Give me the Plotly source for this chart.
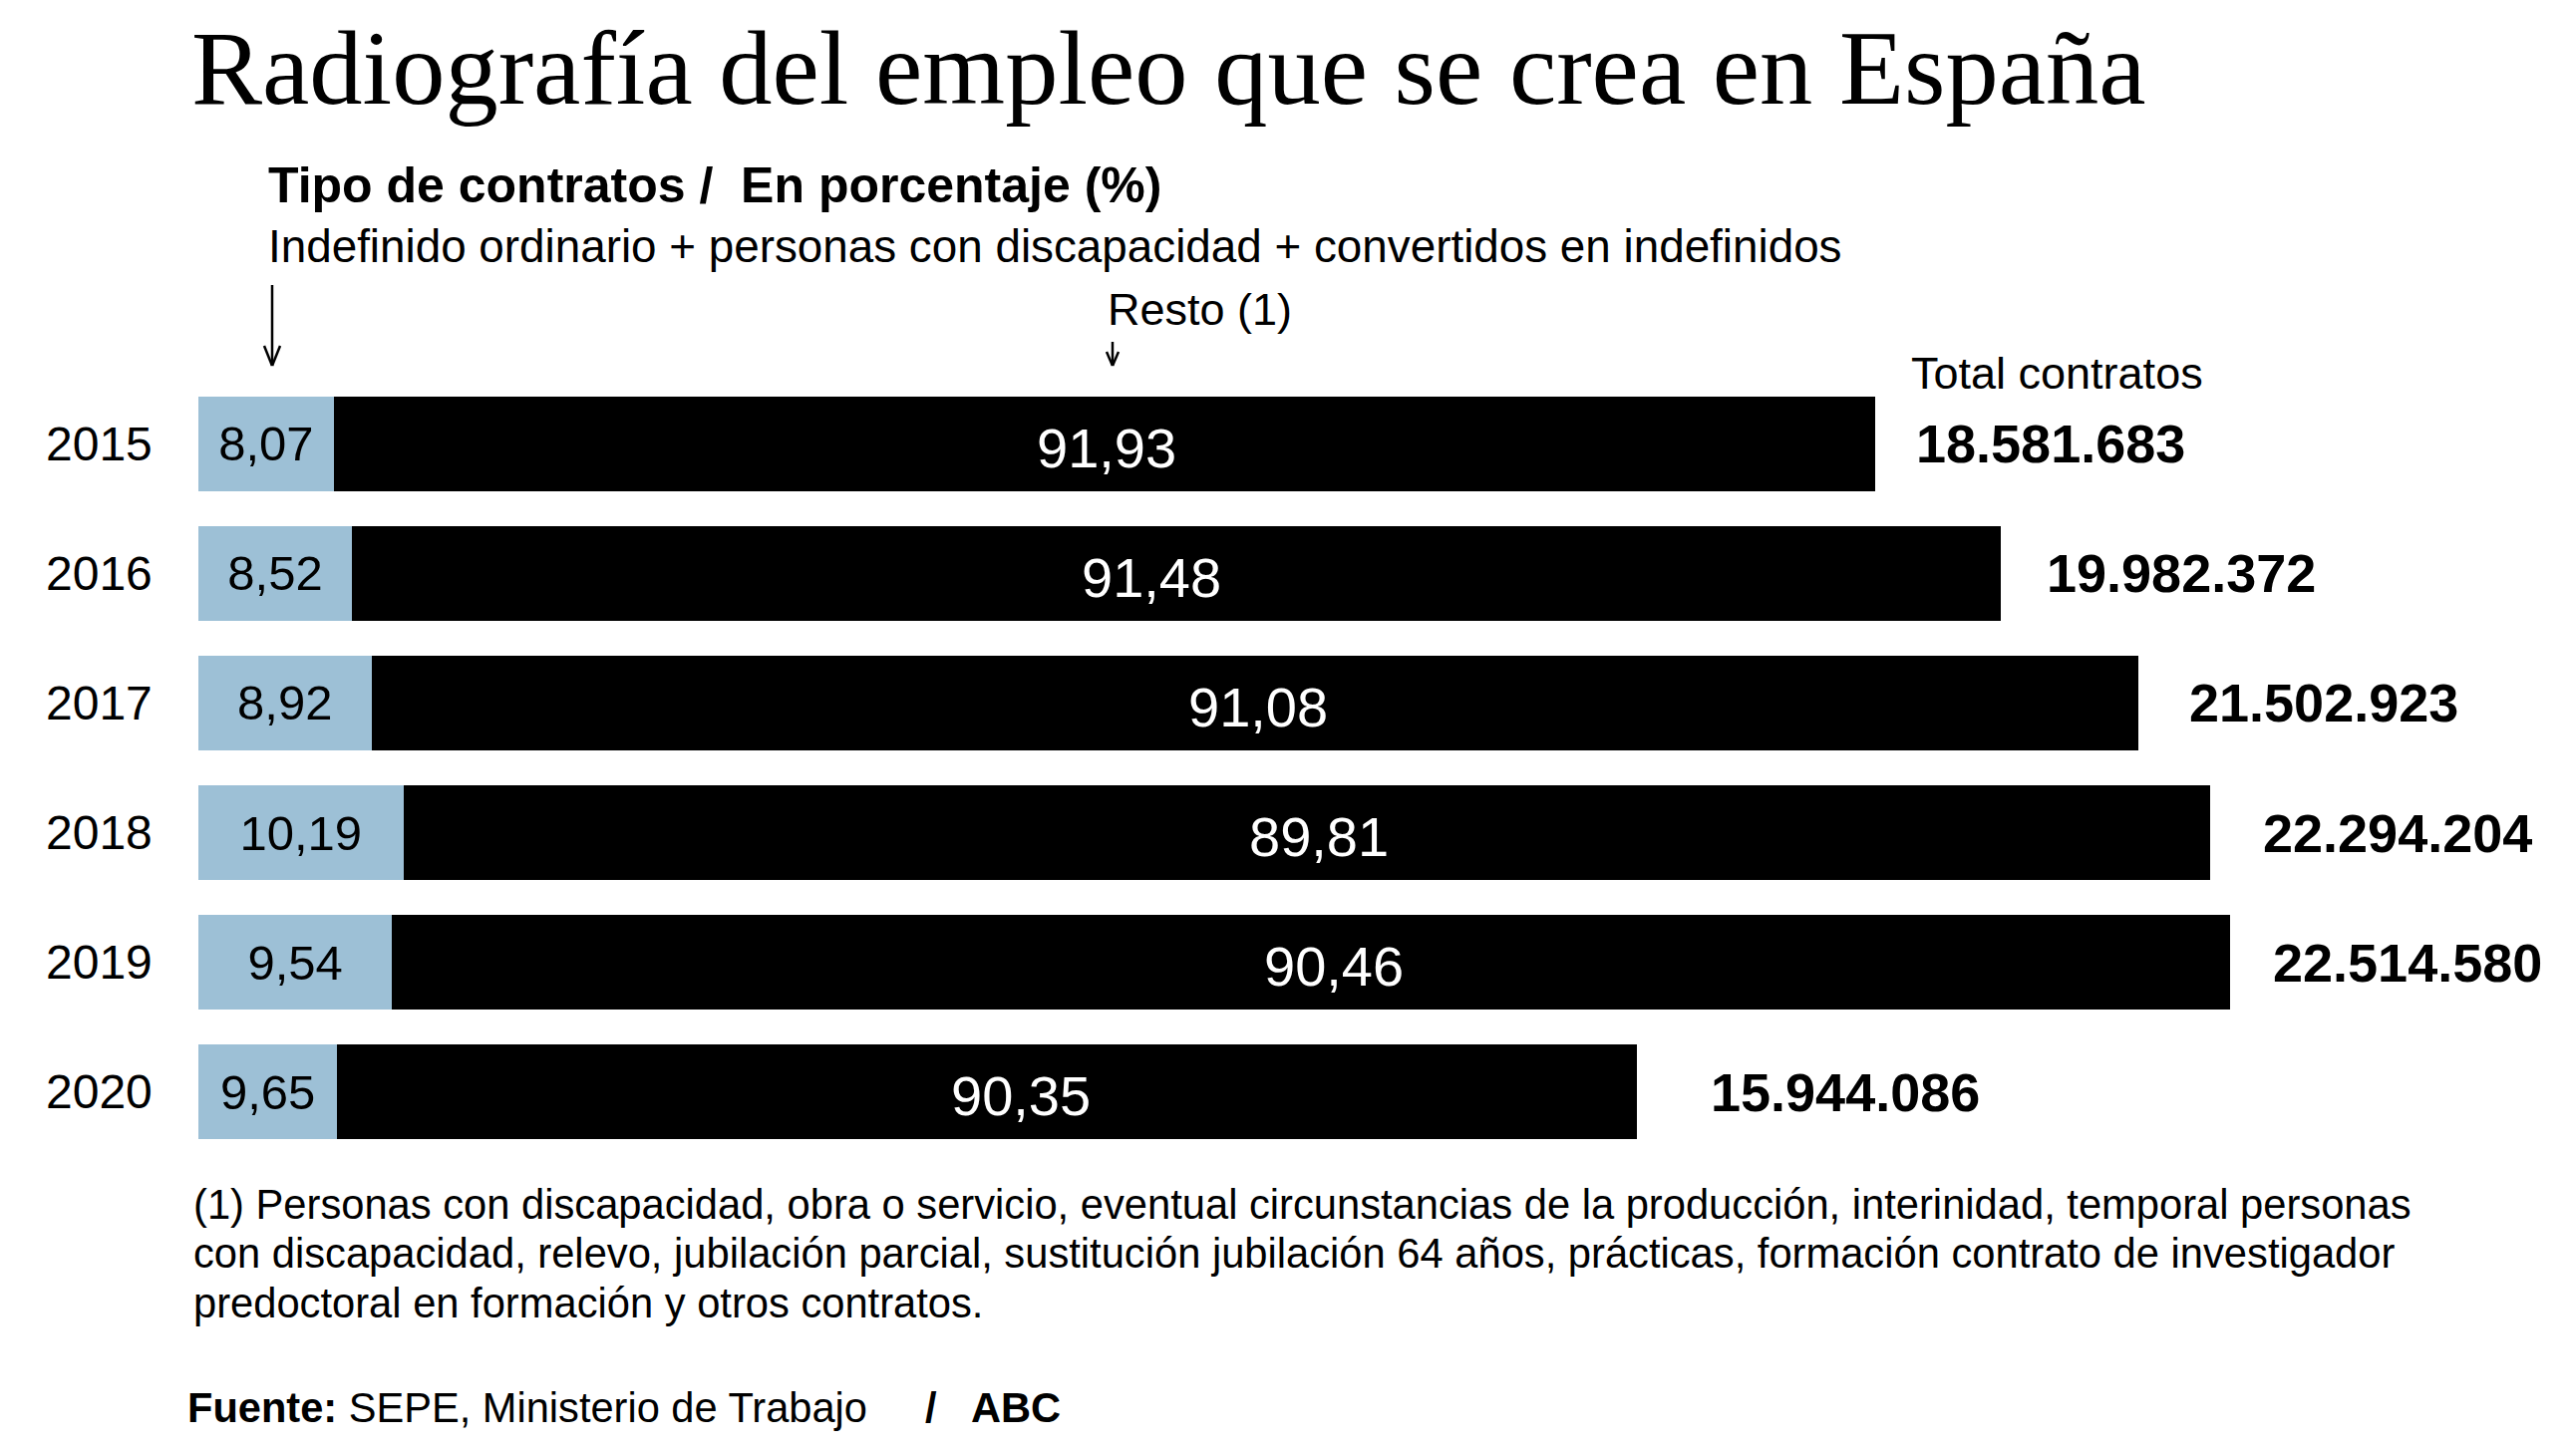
import plotly.graph_objects as go

# ---- data ----
years = ["2015", "2016", "2017", "2018", "2019", "2020"]
pct_indefinido = [8.07, 8.52, 8.92, 10.19, 9.54, 9.65]
pct_resto = [91.93, 91.48, 91.08, 89.81, 90.46, 90.35]
total_contratos = [18581683, 19982372, 21502923, 22294204, 22514580, 15944086]

# ---- style: label nudges (pixels) as in the original layout ----
resto_label_dx = [2, -25, 3, 12, 23, 34]
total_label_dx = [39, 44, 49, 51, 41, 72]

# ---- geometry ----
W_FIG, H_FIG = 2584, 1455
L, R, T, B = 199, 20, 380, 294
PW = W_FIG - L - R
PH = H_FIG - T - B
PX_PER_UNIT = 90.5e-6
XMAX = PW / PX_PER_UNIT

SANS = "Liberation Sans, Arial, Helvetica, sans-serif"
SERIF = "Liberation Serif, Times New Roman, serif"
BLUE = "#9dc0d6"


def px(x):
    return (x - L) / PW


def py(y):
    return (T + PH - y) / PH


def fmt_pct(v):
    return f"{v:.2f}".replace(".", ",")


def fmt_int(v):
    return f"{v:,}".replace(",", ".")


indef_vals = [t * p / 100 for t, p in zip(total_contratos, pct_indefinido)]
resto_vals = [t * p / 100 for t, p in zip(total_contratos, pct_resto)]

fig = go.Figure()
fig.add_trace(go.Bar(
    orientation="h", y=years, x=indef_vals,
    marker=dict(color=BLUE, line=dict(width=0)),
    text=[fmt_pct(v) for v in pct_indefinido],
    textposition="inside", insidetextanchor="middle", textangle=0,
    constraintext="none",
    textfont=dict(family=SANS, size=49, color="black"),
    hoverinfo="skip", showlegend=False,
))
fig.add_trace(go.Bar(
    orientation="h", y=years, x=resto_vals,
    marker=dict(color="black", line=dict(width=0)),
    hoverinfo="skip", showlegend=False,
))

annotations = []
# year labels (category index positions)
for i, yr in enumerate(years):
    annotations.append(dict(
        x=0, y=i, xref="x", yref="y", xanchor="right", yanchor="middle",
        xshift=-44, text=yr, showarrow=False,
        font=dict(family=SANS, size=48, color="black"),
    ))
# "resto" percentages, centred in the black segment
for i, (a, b, p) in enumerate(zip(indef_vals, resto_vals, pct_resto)):
    annotations.append(dict(
        x=a + b / 2, y=i, xref="x", yref="y", xanchor="center", yanchor="middle",
        xshift=resto_label_dx[i], yshift=-4, text=fmt_pct(p), showarrow=False,
        font=dict(family=SANS, size=56, color="white"),
    ))
# totals
for i, tot in enumerate(total_contratos):
    annotations.append(dict(
        x=tot, y=i, xref="x", yref="y", xanchor="left", yanchor="middle",
        xshift=total_label_dx[i], text=f"<b>{fmt_int(tot)}</b>", showarrow=False,
        font=dict(family=SANS, size=54, color="black"),
    ))


def paper_text(x, y, text, size, family=SANS, xanchor="left"):
    annotations.append(dict(
        x=px(x), y=py(y), xref="paper", yref="paper", xanchor=xanchor,
        yanchor="middle", text=text, showarrow=False, align="left",
        font=dict(family=family, size=size, color="black"),
    ))


paper_text(190, 68, "Radiografía del empleo que se crea en España", 106.5, family=SERIF)
paper_text(267, 186, "<b>Tipo de contratos /  En porcentaje (%)</b>", 50)
paper_text(267, 247, "Indefinido ordinario + personas con discapacidad + convertidos en indefinidos", 45.8)
paper_text(1109, 311, "Resto (1)", 45)
paper_text(1915, 374, "Total contratos", 45)

foot_lines = [
    "(1) Personas con discapacidad, obra o servicio, eventual circunstancias de la producción, interinidad, temporal personas",
    "con discapacidad, relevo, jubilación parcial, sustitución jubilación 64 años, prácticas, formación contrato de investigador",
    "predoctoral en formación y otros contratos.",
]
for line, yc in zip(foot_lines, [1208, 1257, 1307]):
    paper_text(192, yc, line, 41.7)

paper_text(186, 1412, "<b>Fuente:</b> SEPE, Ministerio de Trabajo", 41.6)
paper_text(926, 1412, "<b>/</b>", 41.6)
paper_text(972, 1412, "<b>ABC</b>", 41.6)

# arrows (open chevrons)
shapes = []


def arrow(x, y0, y1, hw, hh):
    line = dict(color="black", width=2.5)
    shapes.append(dict(type="line", xref="paper", yref="paper",
                       x0=px(x), x1=px(x), y0=py(y0), y1=py(y1), line=line))
    shapes.append(dict(type="line", xref="paper", yref="paper",
                       x0=px(x - hw), x1=px(x), y0=py(y1 - hh), y1=py(y1), line=line))
    shapes.append(dict(type="line", xref="paper", yref="paper",
                       x0=px(x + hw), x1=px(x), y0=py(y1 - hh), y1=py(y1), line=line))


arrow(273, 286, 367, 8, 20)
arrow(1116, 343, 367, 6, 14)

fig.update_layout(
    width=W_FIG, height=H_FIG,
    margin=dict(l=L, r=R, t=T, b=B, autoexpand=False),
    paper_bgcolor="white", plot_bgcolor="white",
    barmode="stack", bargap=0.27,
    xaxis=dict(range=[0, XMAX], visible=False, fixedrange=True),
    yaxis=dict(type="category", range=[len(years) - 0.5, -0.5],
               autorange=False, visible=False, fixedrange=True),
    annotations=annotations, shapes=shapes,
    showlegend=False,
)

fig.write_html("out.html", config={"displayModeBar": False})
